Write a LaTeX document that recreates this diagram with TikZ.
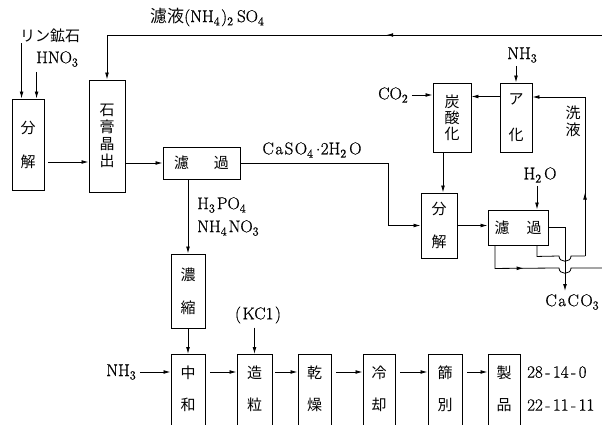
\documentclass[tikz,border=0pt]{standalone}
\usepackage{fontspec}
\newfontfamily\cjk{Noto Sans CJK JP}
\newfontfamily\lmthick[FakeBold=0.7]{Latin Modern Roman}
\usetikzlibrary{arrows.meta,decorations.markings}
\newcommand{\lsp}{\hspace{1.5pt}}
\newcommand{\sbs}[1]{\raisebox{-0.45ex}{\fontsize{12}{12}\selectfont #1}}
\begin{document}
\begin{tikzpicture}[x=1pt,y=-1pt,
  box/.style={draw, line width=0.9pt, inner sep=0pt, font=\cjk\fontsize{15}{17}\selectfont, align=center},
  jp/.style={font=\cjk\fontsize{15}{17}\selectfont, align=center, inner sep=0pt},
  lt/.style={font=\lmthick\fontsize{17}{20}\selectfont, inner sep=0pt},
  flow/.style={line width=0.8pt},
  tip/.style={-{Latex[length=7pt,width=3.8pt]}},
  arr/.style={flow, tip},
  midtip/.style={postaction={decorate}, decoration={markings, mark=at position #1 with {\arrow{Latex[length=7pt,width=3.8pt]}}}},
]
\useasboundingbox (0,0) rectangle (602,425);
\clip (0,0) rectangle (602,425);

% ---- upper boxes
\node[box, minimum width=32pt, minimum height=91pt] (bunkaiA) at (28,144.5) {分\\[17pt]解};
\node[box, minimum width=36pt, minimum height=112pt] (sekko) at (107,136) {石\\膏\\晶\\出};
\node[box, minimum width=77pt, minimum height=32pt] (rokaA) at (201.5,163) {濾\hspace{25pt}過};
\node[box, minimum width=36pt, minimum height=65pt] (bunkaiB) at (439,225.5) {分\\[16pt]解};
\node[box, minimum width=38pt, minimum height=69pt, font=\cjk\fontsize{15}{16}\selectfont] (tansan) at (452,117.5) {炭\\酸\\化};
\node[box, minimum width=32pt, minimum height=69pt] (aka) at (516,117.5) {ア\\[19pt]化};
\node[box, minimum width=60pt, minimum height=35pt] (rokaB) at (518,227.5) {濾\hspace{17pt}過};
\node[box, minimum width=34pt, minimum height=74pt] (noshuku) at (188,291) {濃\\[16pt]縮};

% ---- bottom boxes (cut by the lower edge)
\node[box, minimum width=34pt, minimum height=90pt, anchor=north] (chuwa) at (188,354) {};
\node[box, minimum width=35pt, minimum height=90pt, anchor=north] (zoryu) at (254.5,354) {};
\node[box, minimum width=33pt, minimum height=90pt, anchor=north] (kanso) at (314.5,354) {};
\node[box, minimum width=32pt, minimum height=90pt, anchor=north] (reikyaku) at (379,354) {};
\node[box, minimum width=34pt, minimum height=90pt, anchor=north] (furui) at (445,354) {};
\node[box, minimum width=32pt, minimum height=90pt, anchor=north] (seihin) at (504,354) {};
\node[jp] (chuwaT) at (188,389) {中\\[15pt]和};
\node[jp] (zoryuT) at (254.5,389) {造\\[15pt]粒};
\node[jp] (kansoT) at (314.5,389) {乾\\[15pt]燥};
\node[jp] (reikyakuT) at (379,389) {冷\\[15pt]却};
\node[jp] (furuiT) at (445,389) {篩\\[15pt]別};
\node[jp] (seihinT) at (504,389) {製\\[15pt]品};

% ---- texts
\node[jp] (rinko) at (50,36) {リン鉱石};
\node[lt] (hno) at (57,59) {HNO\sbs{3}};
\node[lt, anchor=west] (filtrate) at (150,17) {{\cjk 濾液}(NH\sbs{4}\lsp)\sbs{2}\hspace{4pt}SO\sbs{4}};
\node[lt] (caso) at (312,150) {C\lsp a\lsp S\lsp O\sbs{4}\hspace{3pt}$\cdot$2H\sbs{2}\hspace{3pt}O};
\node[lt] (coA) at (393,95) {CO\sbs{2}};
\node[lt] (nhT) at (522,55) {NH\sbs{3}};
\node[jp] (senkei) at (573,121) {洗\\液};
\node[lt] (h2o) at (540,175) {H\sbs{2}\hspace{3pt}O};
\node[lt, anchor=west] (hpo) at (197,205) {H\sbs{3}\hspace{2pt}PO\sbs{4}};
\node[lt, anchor=west] (nhno) at (197,228) {NH\sbs{4}\hspace{2pt}NO\sbs{3}};
\node[lt] (caco) at (572,302) {C\lsp a\lsp C\lsp O\sbs{3}};
\node[lt] (nhB) at (121,372) {NH\sbs{3}};
\node[lt] (kcl) at (258,315) {(\lsp KC1\lsp)};
\node[lt, anchor=west] (gradeA) at (527,372) {28\hspace{2.5pt}-\hspace{2.5pt}14\hspace{2.5pt}-\hspace{2.5pt}0};
\node[lt, anchor=west] (gradeB) at (527,405) {22\hspace{2.5pt}-\hspace{2.5pt}11\hspace{2.5pt}-\hspace{2.5pt}11};

% ---- free ends
\coordinate (topR) at (602,35);
\coordinate (cB) at (388,163);
\coordinate (dropEnd) at (565,291);
\coordinate (rightB) at (602,268);
\coordinate (washUp) at (585,256);
\coordinate (washTop) at (585,97);

% ---- connectors
\draw[arr] ([xshift=10pt]bunkaiA.north west |- rinko.south) -- ([xshift=10pt]bunkaiA.north west);
\draw[arr] ([xshift=25pt]bunkaiA.north west |- hno.south) ++(0,5) -- ([xshift=25pt]bunkaiA.north west);
\draw[arr, shorten <=4pt] ([yshift=-17.5pt]bunkaiA.east) -- ([yshift=-17.5pt]bunkaiA.east -| sekko.west);
\draw[arr] (sekko.east |- rokaA.west) -- (rokaA.west);
\draw[arr, midtip=0.4] (topR) -| (sekko.north);
\draw[arr] (rokaA.east) -- (cB) |- (bunkaiB.west);
\draw[arr] (coA.east) ++(4,0) -- (coA.east -| tansan.west);
\draw[arr] ([yshift=21pt]aka.west) -- ([yshift=21pt]aka.west -| tansan.east);
\draw[arr] (aka.north |- nhT.south) ++(0,3) -- (aka.north);
\draw[arr] ([xshift=4pt]bunkaiB.north |- tansan.south) -- ([xshift=4pt]bunkaiB.north);
\draw[arr] (bunkaiB.east) -- (bunkaiB.east -| rokaB.west);
\draw[arr] ([xshift=19pt]rokaB.north |- h2o.south) ++(0,3) -- ([xshift=19pt]rokaB.north);
\draw[arr] (rokaB.east) -| (dropEnd);
\draw[flow] ([xshift=19pt]rokaB.south) -- ++(0,11) -- (559,256)
   .. controls (559,263) and (571,263) .. (571,256) -- (washUp);
\draw[arr, midtip=0.3] (washUp) -- (washTop) -- (washTop -| aka.east);
\draw[flow, midtip=0.38] ([xshift=-23pt]rokaB.south) -- ++(0,23) -- (559,268)
   .. controls (559,275) and (571,275) .. (571,268) -- (rightB);

\draw[arr] (noshuku.north |- rokaA.south) -- (noshuku.north);
\draw[arr] (noshuku.south) -- (chuwa.north);
\draw[arr] (nhB.east) ++(4,0) -- (nhB.east -| chuwa.west);
\draw[arr] (zoryu.north |- kcl.south) ++(0,4) -- (zoryu.north);
\draw[arr, shorten <=5pt] (chuwa.east |- nhB) -- (zoryu.west |- nhB);
\draw[arr, shorten <=3pt] (zoryu.east |- nhB) -- (kanso.west |- nhB);
\draw[arr, shorten <=5pt] (kanso.east |- nhB) -- (reikyaku.west |- nhB);
\draw[arr, shorten <=5pt] (reikyaku.east |- nhB) -- (furui.west |- nhB);
\draw[arr, shorten <=5pt] (furui.east |- nhB) -- (seihin.west |- nhB);
\end{tikzpicture}
\end{document}
